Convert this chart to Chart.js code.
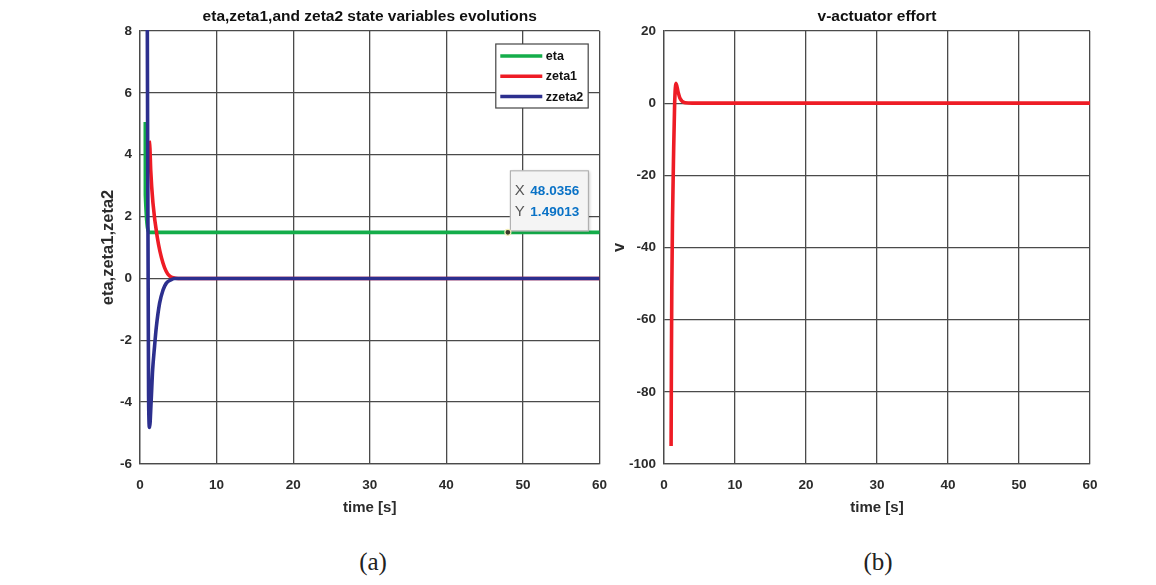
<!DOCTYPE html>
<html>
<head>
<meta charset="utf-8">
<script src="https://cdn.jsdelivr.net/npm/chart.js@4.4.1/dist/chart.umd.min.js"></script>
<style>
  html, body { margin:0; padding:0; background:#fff; }
  body { width:1156px; height:585px; position:relative; overflow:hidden; }
  #ca { position:absolute; left:0; top:0; }
  #cb { position:absolute; left:600px; top:0; }
  .cap { position:absolute; top:548px; font-family:'Liberation Serif','DejaVu Serif',serif; font-size:25px; color:#222; transform:translateX(-50%); }
</style>
</head>
<body>
<canvas id="ca" width="620" height="545"></canvas>
<canvas id="cb" width="556" height="545"></canvas>
<div class="cap" style="left:373px">(a)</div>
<div class="cap" style="left:878px">(b)</div>
<script>
// ---------- data ----------
const etaT   = [0.69, 0.70, 1.25, 60];
const etaY   = [5.06, 2.7, 1.49013, 1.49013];
const zeta1T = [1.2, 1.3, 1.4, 1.69, 2.25, 3.0, 3.85, 5, 60];
const zeta1Y = [4.45, 4.2, 3.5, 2.44, 1.34, 0.5, 0.08, 0, 0];
const zeta2T = [0.95, 1.12, 1.25, 1.45, 1.65, 1.9, 2.12, 2.56, 3.0, 3.42, 4.0, 4.5, 60];
const zeta2Y = [8.6, -3.8, -4.82, -4.0, -2.96, -2.2, -1.6, -0.8, -0.38, -0.16, -0.05, 0, 0];
const vT     = [1.0, 1.05, 1.1, 1.2, 1.35, 1.5, 1.69, 2.0, 2.25, 2.96, 4, 60];
const vY     = [-95, -69, -51, -32, -14, 0, 5.5, 3, 1.35, 0.1, 0, 0];
const seriesNames = ['eta', 'zeta1', 'zzeta2'];
const xTicks = [0, 10, 20, 30, 40, 50, 60];
const yTicksA = [-6, -4, -2, 0, 2, 4, 6, 8];
const yTicksB = [-100, -80, -60, -40, -20, 0, 20];
const tipPoint = [48.0356, 1.49013];
const titleA = 'eta,zeta1,and zeta2 state variables evolutions';
const titleB = 'v-actuator effort';

const pts = (t, y) => t.map((v, i) => ({x: v, y: y[i]}));
const FONT = "'Liberation Sans', Arial, Helvetica, sans-serif";
const GRID = '#4a4a4a';
const TXT = '#2b2b2b';
const COLORS = ['#14ad4a', '#ee1c25', '#2c2f8e'];

function scales(yMin, yMax, yTitle, yWidth, yTicks) {
  return {
    x: {
      type: 'linear', min: 0, max: 60,
      afterBuildTicks: s => { s.ticks = xTicks.map(v => ({value: v})); },
      afterFit: s => { s.height = 53; },
      grid: { color: GRID, lineWidth: 1.3, drawTicks: false },
      border: { color: GRID, width: 1.3 },
      ticks: { padding: 13, color: TXT, font: { family: FONT, size: 13.5, weight: 'bold' }, maxRotation: 0 },
      title: { display: true, text: 'time [s]', color: TXT, padding: 0, font: { family: FONT, size: 15, weight: 'bold' } }
    },
    y: {
      type: 'linear', min: yMin, max: yMax,
      afterBuildTicks: s => { s.ticks = yTicks.map(v => ({value: v})); },
      afterFit: s => { s.width = yWidth; },
      grid: { color: GRID, lineWidth: 1.3, drawTicks: false },
      border: { color: GRID, width: 1.3 },
      ticks: { padding: 8, color: TXT, font: { family: FONT, size: 13.5, weight: 'bold' } },
      title: { display: true, text: yTitle, color: TXT, padding: 0, font: { family: FONT, size: 16.5, weight: 'bold' } }
    }
  };
}

function titleOpt(text) {
  return { display: true, text: text, fullSize: false, color: '#111',
           font: { family: FONT, size: 15.5, weight: 'bold' }, padding: { top: 7.7, bottom: 4.7 } };
}

const legendPlugin = {
  id: 'boxLegend',
  afterDatasetsDraw(chart) {
    const ctx = chart.ctx, a = chart.chartArea;
    const x0 = a.right - 103.7, y0 = a.top + 13, w = 92.4, h = 64;
    ctx.save();
    ctx.fillStyle = '#fff'; ctx.fillRect(x0, y0, w, h);
    ctx.strokeStyle = '#444'; ctx.lineWidth = 1.2; ctx.strokeRect(x0, y0, w, h);
    ctx.font = 'bold 12.5px ' + FONT; ctx.textBaseline = 'middle'; ctx.fillStyle = '#111';
    seriesNames.forEach((name, i) => {
      const yy = y0 + 12 + i * 20.3;
      ctx.strokeStyle = COLORS[i]; ctx.lineWidth = 3.5;
      ctx.beginPath(); ctx.moveTo(x0 + 4.5, yy); ctx.lineTo(x0 + 46.5, yy); ctx.stroke();
      ctx.fillText(name, x0 + 50, yy + 0.5);
    });
    ctx.restore();
  }
};

const tipPlugin = {
  id: 'dataTip',
  afterDatasetsDraw(chart) {
    const ctx = chart.ctx;
    const px = chart.scales.x.getPixelForValue(tipPoint[0]);
    const py = chart.scales.y.getPixelForValue(tipPoint[1]);
    const bx = px + 2, by = py - 62, bw = 79, bh = 61;
    ctx.save();
    ctx.shadowColor = 'rgba(0,0,0,0.25)'; ctx.shadowBlur = 3; ctx.shadowOffsetX = 1; ctx.shadowOffsetY = 1;
    ctx.fillStyle = '#f4f4f4'; ctx.fillRect(bx, by, bw, bh);
    ctx.shadowColor = 'transparent';
    ctx.strokeStyle = '#a8a8a8'; ctx.lineWidth = 1; ctx.strokeRect(bx + 0.5, by + 0.5, bw - 1, bh - 1);
    ctx.textBaseline = 'middle';
    ctx.font = '15px ' + FONT; ctx.fillStyle = '#555';
    ctx.fillText('X', bx + 5, by + 21);
    ctx.fillText('Y', bx + 5, by + 42);
    ctx.font = 'bold 13.5px ' + FONT; ctx.fillStyle = '#0a72c6';
    ctx.fillText(String(tipPoint[0]), bx + 20.5, by + 21);
    ctx.fillText(String(tipPoint[1]), bx + 20.5, by + 42);
    ctx.beginPath(); ctx.arc(px, py, 3, 0, Math.PI * 2);
    ctx.fillStyle = '#3a3a2a'; ctx.fill();
    ctx.strokeStyle = '#f3eeb8'; ctx.lineWidth = 1.2; ctx.stroke();
    ctx.restore();
  }
};

// lower "order" is drawn on top: zzeta2 above zeta1 above eta, as in the reference
const lineDs = (label, data, color, order) => ({
  label: label, data: data, borderColor: color, backgroundColor: color, order: order,
  borderWidth: 3.6, pointRadius: 0, showLine: true, fill: false,
  cubicInterpolationMode: 'monotone', clip: 1
});

new Chart(document.getElementById('ca'), {
  type: 'scatter',
  data: { datasets: [
    lineDs(seriesNames[0], pts(etaT, etaY), COLORS[0], 3),
    lineDs(seriesNames[1], pts(zeta1T, zeta1Y), COLORS[1], 2),
    lineDs(seriesNames[2], pts(zeta2T, zeta2Y), COLORS[2], 1)
  ]},
  options: {
    responsive: false, animation: false, devicePixelRatio: 1,
    layout: { padding: { left: 99, right: 18, top: 0, bottom: 28 } },
    plugins: { legend: { display: false }, tooltip: { enabled: false }, title: titleOpt(titleA) },
    scales: scales(-6, 8, 'eta,zeta1,zeta2', 41, yTicksA)
  },
  plugins: [tipPlugin, legendPlugin]
});

new Chart(document.getElementById('cb'), {
  type: 'scatter',
  data: { datasets: [ lineDs('v', pts(vT, vY), COLORS[1], 1) ] },
  options: {
    responsive: false, animation: false, devicePixelRatio: 1,
    layout: { padding: { left: 10, right: 66, top: 0, bottom: 28 } },
    plugins: { legend: { display: false }, tooltip: { enabled: false }, title: titleOpt(titleB) },
    scales: scales(-100, 20, 'v', 54, yTicksB)
  }
});
</script>
</body>
</html>
